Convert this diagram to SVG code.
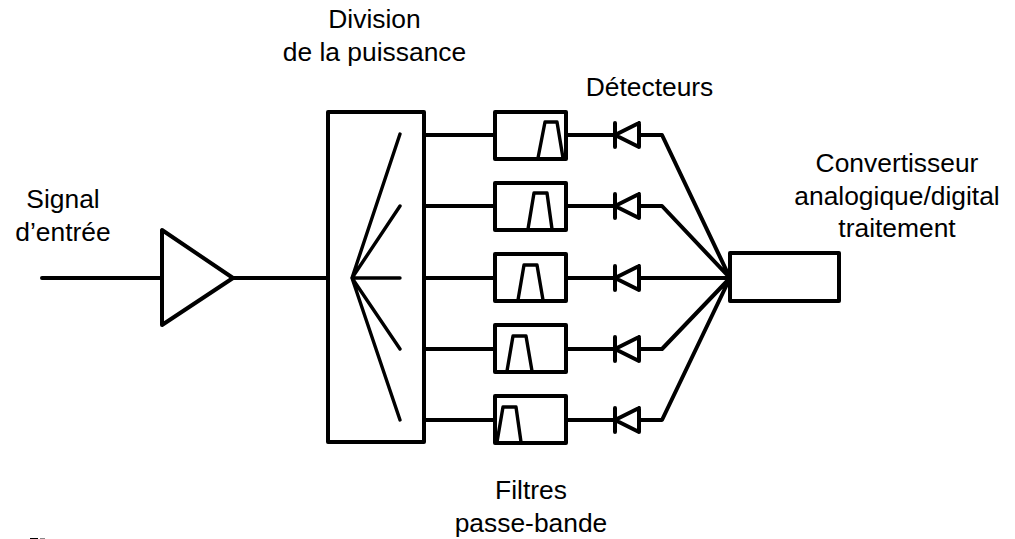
<svg xmlns="http://www.w3.org/2000/svg" width="1015" height="539" viewBox="0 0 1015 539">
<style>
.s{fill:none;stroke:#000;stroke-width:4;stroke-linejoin:round;stroke-linecap:round}
.w{stroke-width:3.4}
text{font-family:"Liberation Sans",Arial,sans-serif;font-size:26.4px;fill:#000;text-anchor:middle}
</style>
<defs>
<g id="filter-box"><rect class="s" x="495" y="0" width="71" height="47"/></g>
<path id="diode" class="s" d="M615 -12V12M639 -12V12L615 0L639 -12"/>
</defs>
<rect width="1015" height="539" fill="#fff"/>
<g id="connectors">
<path class="s" d="M42 278H162M233 278H328"/>
<path class="s" d="M424 135H495M424 206H495M424 278H495M424 349H495M424 420H495"/>
<path class="s" d="M566 135H615M566 206H615M566 278H615M566 349H615M566 420H615"/>
<path class="s" d="M639 135H662L730 278M639 206H662L730 278M639 278H730M639 349H662L730 278M639 420H662L730 278"/>
</g>
<g id="amplifier"><path class="s" d="M162 230V325L233 278Z"/></g>
<g id="splitter">
<rect class="s" x="328" y="112" width="96" height="330"/>
<path class="s w" d="M352 278L400 134M352 278L400 206M352 278H400M352 278L400 349M352 278L400 420"/>
</g>
<g id="filter1"><use href="#filter-box" y="112"/><path class="s w" d="M538 158L545 122H557L563 158"/></g>
<g id="filter2"><use href="#filter-box" y="183"/><path class="s w" d="M528 229L534 193H547L552 229"/></g>
<g id="filter3"><use href="#filter-box" y="254"/><path class="s w" d="M518 300L524 265H537L543 300"/></g>
<g id="filter4"><use href="#filter-box" y="325"/><path class="s w" d="M507 371L513 336H526L532 371"/></g>
<g id="filter5"><use href="#filter-box" y="396"/><path class="s w" d="M497 442L503 407H516L521 442"/></g>
<g id="detector1"><use href="#diode" y="135"/></g>
<g id="detector2"><use href="#diode" y="206"/></g>
<g id="detector3"><use href="#diode" y="278"/></g>
<g id="detector4"><use href="#diode" y="349"/></g>
<g id="detector5"><use href="#diode" y="420"/></g>
<g id="converter"><rect class="s" x="730" y="253" width="109" height="48"/></g>
<g id="labels">
<text x="374.5" y="28">Division</text>
<text x="374.5" y="61">de la puissance</text>
<text x="649.5" y="96">Détecteurs</text>
<text x="897" y="172">Convertisseur</text>
<text x="897" y="205">analogique/digital</text>
<text x="897" y="237">traitement</text>
<text x="63" y="208">Signal</text>
<text x="63" y="241">d’entrée</text>
<text x="531" y="499">Filtres</text>
<text x="531" y="532">passe-bande</text>
</g>
<path d="M30 538.5H38" stroke="#000" stroke-width="1" fill="none"/>
<path d="M40 538.5H45" stroke="#888" stroke-width="1" fill="none"/>
</svg>
